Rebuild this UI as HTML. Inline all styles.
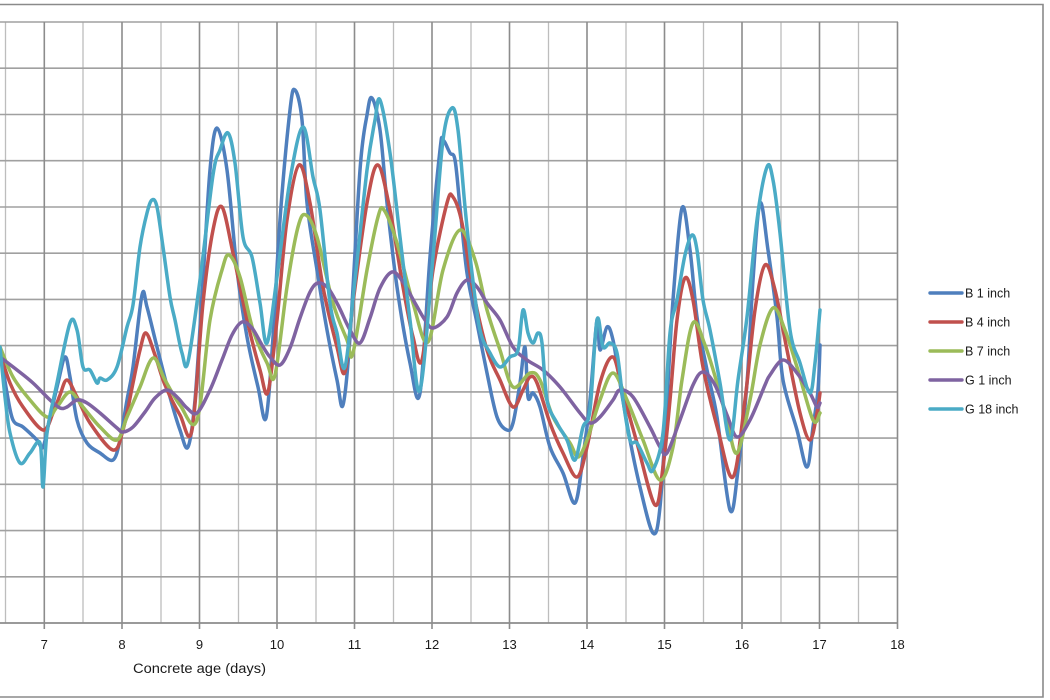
<!DOCTYPE html>
<html>
<head>
<meta charset="utf-8">
<style>
  html, body { margin: 0; padding: 0; background: #ffffff; }
  body { width: 1050px; height: 700px; overflow: hidden; }
  svg { display: block; }
  text { font-family: "Liberation Sans", sans-serif; fill: #1a1a1a; }
</style>
</head>
<body>
<svg id="chart" width="1050" height="700" viewBox="0 0 1050 700" xmlns="http://www.w3.org/2000/svg">
  <rect x="0" y="0" width="1050" height="700" fill="#ffffff"/>
  <!-- outer border -->
  <polyline points="0,4.5 1043,4.5 1043,697 0,697" fill="none" stroke="#8a8a8a" stroke-width="1.6"/>

  <!-- minor vertical gridlines (half days) -->
  <g stroke="#bdbdbd" stroke-width="1.3">
    <line x1="5.5" y1="22" x2="5.5" y2="623"/>
    <line x1="83" y1="22" x2="83" y2="623"/>
    <line x1="161" y1="22" x2="161" y2="623"/>
    <line x1="238.5" y1="22" x2="238.5" y2="623"/>
    <line x1="316" y1="22" x2="316" y2="623"/>
    <line x1="393.5" y1="22" x2="393.5" y2="623"/>
    <line x1="471" y1="22" x2="471" y2="623"/>
    <line x1="548.5" y1="22" x2="548.5" y2="623"/>
    <line x1="626" y1="22" x2="626" y2="623"/>
    <line x1="703.5" y1="22" x2="703.5" y2="623"/>
    <line x1="781" y1="22" x2="781" y2="623"/>
    <line x1="858.5" y1="22" x2="858.5" y2="623"/>
  </g>
  <!-- horizontal gridlines -->
  <g stroke="#a0a0a0" stroke-width="1.6">
    <line x1="0" y1="22" x2="898" y2="22"/>
    <line x1="0" y1="68.2" x2="898" y2="68.2"/>
    <line x1="0" y1="114.5" x2="898" y2="114.5"/>
    <line x1="0" y1="160.7" x2="898" y2="160.7"/>
    <line x1="0" y1="207" x2="898" y2="207"/>
    <line x1="0" y1="253.2" x2="898" y2="253.2"/>
    <line x1="0" y1="299.4" x2="898" y2="299.4"/>
    <line x1="0" y1="345.6" x2="898" y2="345.6"/>
    <line x1="0" y1="391.9" x2="898" y2="391.9"/>
    <line x1="0" y1="438.1" x2="898" y2="438.1"/>
    <line x1="0" y1="484.3" x2="898" y2="484.3"/>
    <line x1="0" y1="530.6" x2="898" y2="530.6"/>
    <line x1="0" y1="576.8" x2="898" y2="576.8"/>
  </g>
  <!-- major vertical gridlines -->
  <g stroke="#8c8c8c" stroke-width="1.6">
    <line x1="44.3" y1="22" x2="44.3" y2="629"/>
    <line x1="122" y1="22" x2="122" y2="629"/>
    <line x1="199.5" y1="22" x2="199.5" y2="629"/>
    <line x1="277" y1="22" x2="277" y2="629"/>
    <line x1="354.5" y1="22" x2="354.5" y2="629"/>
    <line x1="432" y1="22" x2="432" y2="629"/>
    <line x1="509.5" y1="22" x2="509.5" y2="629"/>
    <line x1="587" y1="22" x2="587" y2="629"/>
    <line x1="664.5" y1="22" x2="664.5" y2="629"/>
    <line x1="742" y1="22" x2="742" y2="629"/>
    <line x1="819.5" y1="22" x2="819.5" y2="629"/>
    <line x1="897.5" y1="22" x2="897.5" y2="629"/>
  </g>
  <!-- x axis -->
  <line x1="0" y1="623" x2="898" y2="623" stroke="#8c8c8c" stroke-width="1.8"/>

  <!-- tick labels -->
  <g font-size="13" text-anchor="middle">
    <text x="44.3" y="649">7</text>
    <text x="122" y="649">8</text>
    <text x="199.5" y="649">9</text>
    <text x="277" y="649">10</text>
    <text x="354.5" y="649">11</text>
    <text x="432" y="649">12</text>
    <text x="509.5" y="649">13</text>
    <text x="587" y="649">14</text>
    <text x="664.5" y="649">15</text>
    <text x="742" y="649">16</text>
    <text x="819.5" y="649">17</text>
    <text x="897.5" y="649">18</text>
  </g>
  <text x="133" y="673" font-size="13.5" textLength="133" lengthAdjust="spacingAndGlyphs">Concrete age (days)</text>

  <!-- series -->
  <g id="series" fill="none" stroke-width="3.5" stroke-linejoin="round" stroke-linecap="round">
    <polyline stroke="#4f7fbd" points="0,350 7,393 13,420 23,427 37,440 43,447 50,417 58,383 65,357 70,377 77,420 87,443 100,453 113,460 120,440 127,400 133,367 142,295 147,307 157,347 170,397 180,430 188,447 195,400 203,280 210,170 217,128 227,170 237,270 247,337 258,387 266,418 273,337 280,220 290,110 295,90 302,120 307,203 317,270 327,330 337,380 343,405 350,337 360,170 367,115 372,98 380,130 387,203 397,287 410,363 420,393 430,257 440,150 443,140 450,153 455,160 460,207 467,273 477,323 487,373 497,417 507,430 513,423 520,383 525,347 528,397 533,393 540,407 550,447 563,473 575,503 583,457 590,400 597,320 600,350 607,327 613,340 620,383 630,440 640,487 653,533 660,507 667,400 673,300 682,208 690,250 697,317 707,370 717,417 730,510 738,470 747,383 753,280 760,203 768,250 777,317 783,380 797,430 807,467 813,427 818,390 820,345"/>
    <polyline stroke="#c0504d" points="0,353 10,383 23,407 43,430 53,413 60,395 67,380 77,397 90,423 113,450 123,430 133,383 140,350 146,333 155,355 165,385 180,415 192,430 203,303 213,230 222,207 233,253 247,320 260,370 268,392 277,320 287,220 299,165 310,203 323,287 337,347 345,372 353,303 367,203 378,165 390,210 403,287 413,337 422,360 433,270 447,203 453,197 462,223 473,290 487,350 500,380 513,407 523,390 530,377 537,383 550,423 563,453 577,477 587,447 600,383 613,357 623,393 637,443 655,505 663,467 670,400 677,320 685,278 693,300 703,367 718,430 733,477 745,400 755,310 765,265 775,290 787,350 800,413 810,440 817,413 820,393"/>
    <polyline stroke="#9bbb59" points="0,347 13,377 30,400 47,417 57,407 70,392 83,407 100,427 117,440 127,417 140,387 153,358 165,380 180,405 197,420 210,320 222,270 229,255 240,277 253,330 267,363 275,375 287,287 298,227 306,215 317,237 333,303 347,340 353,353 367,270 378,217 384,210 397,243 413,303 428,342 443,270 460,230 475,260 487,310 500,350 513,387 530,373 540,380 553,417 570,443 578,457 587,440 600,400 613,373 627,400 643,440 660,480 673,447 682,380 693,323 705,345 717,383 727,420 737,453 750,400 760,345 773,308 785,330 797,367 813,420 820,413"/>
    <polyline stroke="#7f63a1" points="0,357 17,370 33,383 50,400 60,408 67,407 77,400 87,403 100,413 117,428 123,432 133,427 145,412 155,398 167,390 178,398 187,408 197,413 210,390 222,360 232,335 242,322 252,328 262,345 270,357 280,365 290,348 300,318 310,292 318,283 328,288 338,305 350,330 360,343 370,318 380,288 392,272 403,282 415,303 425,320 433,328 447,317 457,293 467,280 477,287 487,303 500,320 513,347 527,360 543,370 560,387 580,413 590,423 600,417 613,400 620,390 633,397 650,427 660,447 667,453 680,420 693,385 703,372 715,385 727,415 737,437 750,420 765,385 770,375 783,360 797,373 810,393 817,407 820,403"/>
    <polyline stroke="#4aabc6" points="0,347 5,397 10,433 20,463 30,453 40,443 43,487 47,433 57,383 70,323 77,330 83,367 90,370 97,383 100,378 107,380 117,367 127,327 133,305 140,247 147,213 152,200 157,207 163,247 170,297 175,320 182,353 188,362 200,280 213,175 220,150 228,133 235,163 243,237 252,257 260,303 267,343 277,277 290,180 303,127 313,177 320,210 330,303 337,333 345,367 355,280 367,170 375,120 380,100 390,153 400,237 410,320 420,390 433,257 443,140 452,108 458,130 465,207 472,273 480,330 490,353 500,367 510,357 518,350 523,310 528,333 533,343 538,333 542,343 547,400 557,423 567,440 575,460 583,427 590,410 597,320 603,347 610,343 617,353 623,400 630,440 637,443 647,463 653,470 663,433 670,333 677,300 685,255 692,235 697,250 703,300 710,330 720,383 730,440 738,380 747,317 757,220 767,167 773,180 780,233 790,330 800,363 810,393 815,363 820,310"/>
  </g>

  <!-- legend -->
  <g stroke-width="3.4" stroke-linecap="round">
    <line x1="930" y1="293" x2="962" y2="293" stroke="#4f7fbd"/>
    <line x1="930" y1="322" x2="962" y2="322" stroke="#c0504d"/>
    <line x1="930" y1="351" x2="962" y2="351" stroke="#9bbb59"/>
    <line x1="930" y1="380" x2="962" y2="380" stroke="#7f63a1"/>
    <line x1="930" y1="409" x2="962" y2="409" stroke="#4aabc6"/>
  </g>
  <g font-size="12.5">
    <text x="965" y="297.5">B 1 inch</text>
    <text x="965" y="326.5">B 4 inch</text>
    <text x="965" y="355.5">B 7 inch</text>
    <text x="965" y="384.5">G 1 inch</text>
    <text x="965" y="413.5">G 18 inch</text>
  </g>
</svg>
<script>
(function(){
  try {
    var NS = "http://www.w3.org/2000/svg";
    var lines = document.querySelectorAll("#series polyline");
    for (var i = 0; i < lines.length; i++) {
      var pl = lines[i];
      var raw = pl.getAttribute("points").trim().split(/\s+/);
      var p = raw.map(function(s){ var a = s.split(","); return [parseFloat(a[0]), parseFloat(a[1])]; });
      if (p.length < 3) continue;
      var d = "M" + p[0][0] + "," + p[0][1];
      var t = 0.5;
      for (var k = 0; k < p.length - 1; k++) {
        var p0 = p[k - 1] || p[k], p1 = p[k], p2 = p[k + 1], p3 = p[k + 2] || p2;
        var c1x = p1[0] + (p2[0] - p0[0]) * t / 3, c1y = p1[1] + (p2[1] - p0[1]) * t / 3;
        var c2x = p2[0] - (p3[0] - p1[0]) * t / 3, c2y = p2[1] - (p3[1] - p1[1]) * t / 3;
        d += " C" + c1x.toFixed(1) + "," + c1y.toFixed(1) + " " + c2x.toFixed(1) + "," + c2y.toFixed(1) + " " + p2[0] + "," + p2[1];
      }
      var path = document.createElementNS(NS, "path");
      path.setAttribute("d", d);
      path.setAttribute("stroke", pl.getAttribute("stroke"));
      pl.parentNode.replaceChild(path, pl);
    }
  } catch (e) {}
})();
</script>
</body>
</html>
